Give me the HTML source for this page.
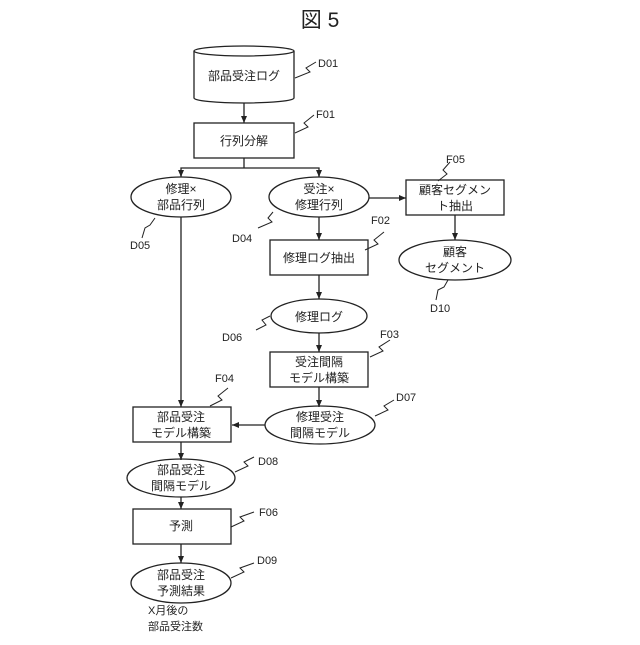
<!DOCTYPE html>
<html><head><meta charset="utf-8"><style>body{margin:0;background:#fff}</style></head><body>
<svg width="640" height="640" viewBox="0 0 640 640" xmlns="http://www.w3.org/2000/svg" font-family="Liberation Sans, Noto Sans CJK JP, sans-serif" fill="none" stroke="#222" stroke-width="1.3">
<defs><marker id="a" markerWidth="8" markerHeight="8" refX="7" refY="4" orient="auto" markerUnits="userSpaceOnUse"><path d="M0,1 L7,4 L0,7Z" fill="#222" stroke="none"/></marker></defs>
<g fill="#222" stroke="none" font-size="12" text-anchor="middle">
<text x="320" y="27" font-size="21">図 5</text>
</g>
<!-- cylinder -->
<path d="M194,51 L194,98 A50,5 0 0 0 294,98 L294,51"/>
<ellipse cx="244" cy="51" rx="50" ry="5"/>
<line x1="244" y1="103" x2="244" y2="123" marker-end="url(#a)"/>
<rect x="194" y="123" width="100" height="35"/>
<polyline points="244,158 244,168"/>
<polyline points="181,176 181,168 319,168 319,176"/>
<line x1="181" y1="170" x2="181" y2="177" marker-end="url(#a)"/>
<line x1="319" y1="170" x2="319" y2="177" marker-end="url(#a)"/>
<ellipse cx="181" cy="197" rx="50" ry="20"/>
<ellipse cx="319" cy="197" rx="50" ry="20"/>
<line x1="369" y1="198" x2="406" y2="198" marker-end="url(#a)"/>
<rect x="406" y="180" width="98" height="35"/>
<line x1="455" y1="215" x2="455" y2="240" marker-end="url(#a)"/>
<ellipse cx="455" cy="260" rx="56" ry="20"/>
<line x1="319" y1="217" x2="319" y2="240" marker-end="url(#a)"/>
<rect x="270" y="240" width="98" height="35"/>
<line x1="319" y1="275" x2="319" y2="299" marker-end="url(#a)"/>
<ellipse cx="319" cy="316" rx="48" ry="17"/>
<line x1="319" y1="333" x2="319" y2="352" marker-end="url(#a)"/>
<rect x="270" y="352" width="98" height="35"/>
<line x1="319" y1="387" x2="319" y2="407" marker-end="url(#a)"/>
<ellipse cx="320" cy="425" rx="55" ry="19"/>
<line x1="265" y1="425" x2="232" y2="425" marker-end="url(#a)"/>
<line x1="181" y1="217" x2="181" y2="407" marker-end="url(#a)"/>
<rect x="133" y="407" width="98" height="35"/>
<line x1="181" y1="442" x2="181" y2="460" marker-end="url(#a)"/>
<ellipse cx="181" cy="478" rx="54" ry="19"/>
<line x1="181" y1="497" x2="181" y2="509" marker-end="url(#a)"/>
<rect x="133" y="509" width="98" height="35"/>
<line x1="181" y1="544" x2="181" y2="563" marker-end="url(#a)"/>
<ellipse cx="181" cy="583" rx="50" ry="20"/>
<!-- squiggles -->
<g stroke-width="1">
<path d="M295,78 L310,72 L306,68 L316,62"/>
<path d="M295,133 L308,127 L304,123 L314,115"/>
<path d="M438,181 L447,174 L443,170 L450,162"/>
<path d="M155,218 L150,225 L145,228 L142,238"/>
<path d="M273,212 L268,218 L272,222 L258,228"/>
<path d="M365,250 L378,244 L374,240 L384,232"/>
<path d="M448,280 L444,287 L438,290 L436,300"/>
<path d="M270,316 L262,320 L266,325 L256,330"/>
<path d="M370,357 L383,351 L379,347 L390,340"/>
<path d="M375,416 L388,410 L384,406 L394,400"/>
<path d="M210,406 L222,400 L218,396 L228,388"/>
<path d="M235,472 L248,466 L244,462 L254,457"/>
<path d="M231,527 L244,521 L240,517 L254,512"/>
<path d="M231,578 L244,572 L240,568 L254,563"/>
</g>
<g fill="#222" stroke="none" font-size="12" text-anchor="middle">
<text x="244" y="80">部品受注ログ</text>
<text x="244" y="145">行列分解</text>
<text x="181" y="193">修理×</text><text x="181" y="209">部品行列</text>
<text x="319" y="193">受注×</text><text x="319" y="209">修理行列</text>
<text x="455" y="194">顧客セグメン</text><text x="455" y="210">ト抽出</text>
<text x="455" y="256">顧客</text><text x="455" y="272">セグメント</text>
<text x="319" y="262">修理ログ抽出</text>
<text x="319" y="321">修理ログ</text>
<text x="319" y="366">受注間隔</text><text x="319" y="382">モデル構築</text>
<text x="320" y="421">修理受注</text><text x="320" y="437">間隔モデル</text>
<text x="181" y="421">部品受注</text><text x="181" y="437">モデル構築</text>
<text x="181" y="474">部品受注</text><text x="181" y="490">間隔モデル</text>
<text x="181" y="530">予測</text>
<text x="181" y="579">部品受注</text><text x="181" y="595">予測結果</text>
<g text-anchor="start" font-size="11">
<text x="148" y="614">X月後の</text><text x="148" y="630">部品受注数</text>
<text x="318" y="67">D01</text><text x="316" y="118">F01</text><text x="446" y="163">F05</text>
<text x="130" y="249">D05</text><text x="232" y="242">D04</text><text x="371" y="224">F02</text>
<text x="430" y="312">D10</text><text x="222" y="341">D06</text><text x="380" y="338">F03</text>
<text x="396" y="401">D07</text><text x="215" y="382">F04</text><text x="258" y="465">D08</text>
<text x="259" y="516">F06</text><text x="257" y="564">D09</text>
</g>
</g>
</svg>
</body></html>
